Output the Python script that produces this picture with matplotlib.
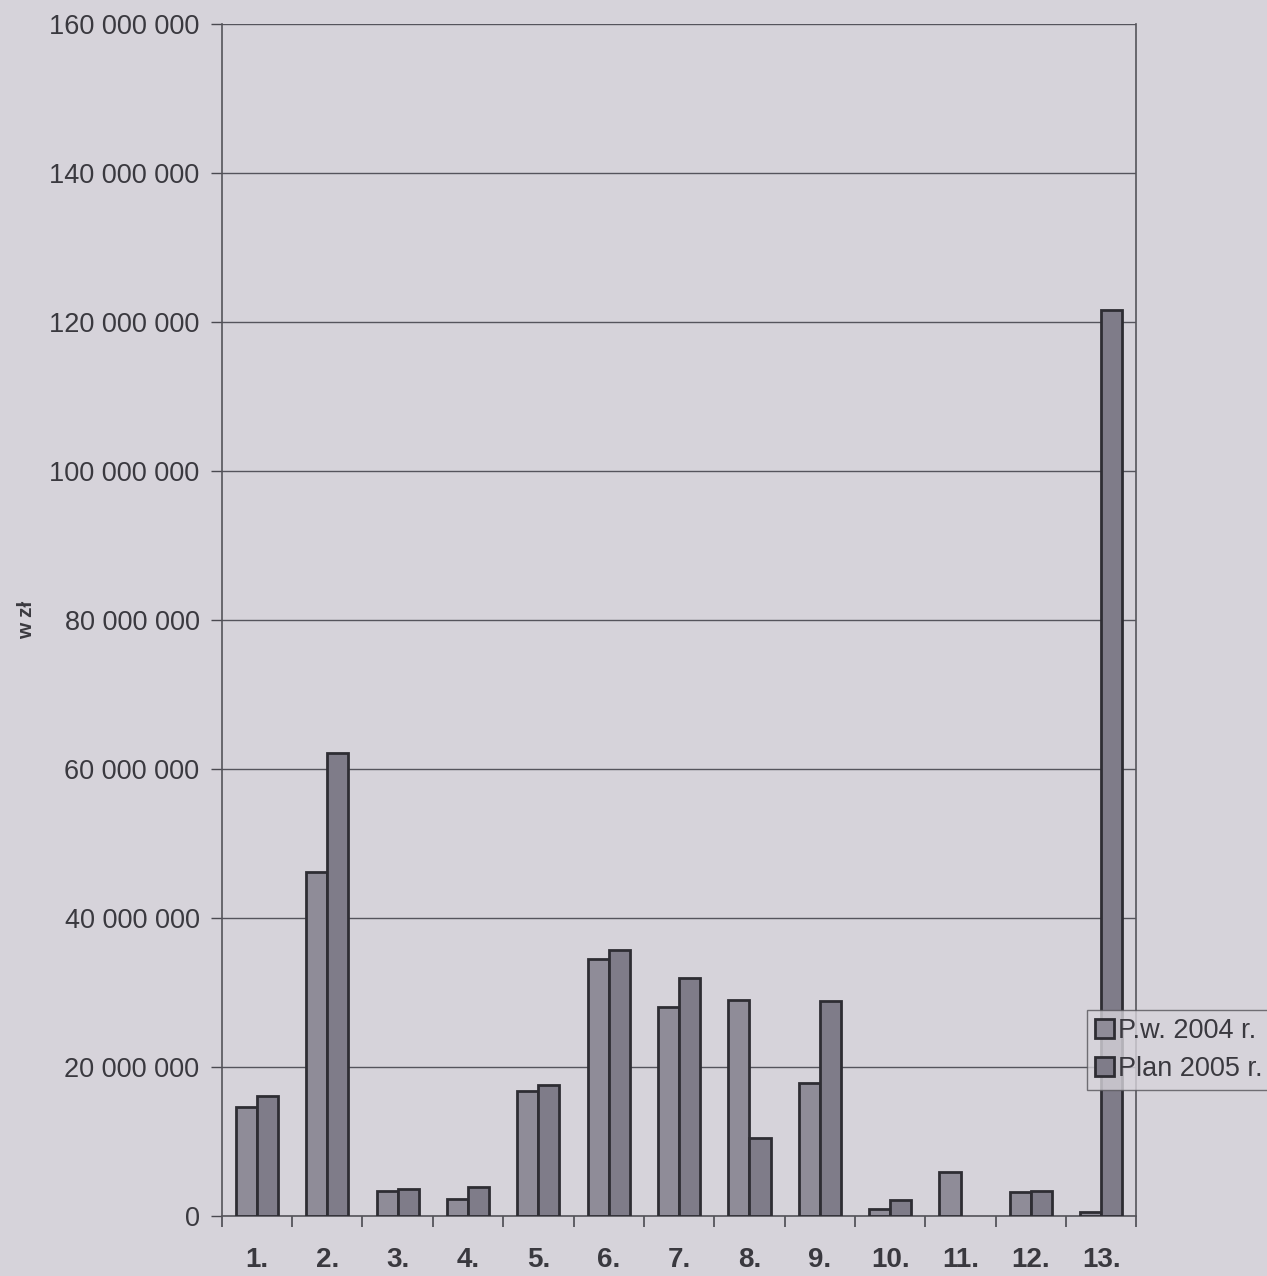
import matplotlib
matplotlib.use("Agg")
import matplotlib.pyplot as plt
import numpy as np
from matplotlib.ticker import FuncFormatter, FixedLocator

categories = ["1.", "2.", "3.", "4.", "5.", "6.", "7.", "8.", "9.", "10.", "11.", "12.", "13."]
pw_2004 = [14.6e6, 46.2e6, 3.4e6, 2.3e6, 16.8e6, 34.5e6, 28.1e6, 29.0e6, 17.9e6, 0.9e6, 5.9e6, 3.2e6, 0.6e6]
plan_2005 = [16.1e6, 62.1e6, 3.6e6, 3.9e6, 17.6e6, 35.7e6, 31.9e6, 10.5e6, 28.9e6, 2.1e6, 0.0, 3.4e6, 121.7e6]
series_labels = ["P.w. 2004 r.", "Plan 2005 r."]
y_ticks = [0, 20e6, 40e6, 60e6, 80e6, 100e6, 120e6, 140e6, 160e6]

plt.rcParams['font.family'] = ['Liberation Sans', 'DejaVu Sans']

bg = "#d6d3da"
fig = plt.figure(figsize=(12.67, 12.76), dpi=100, facecolor=bg)
ax = fig.add_axes([0.175, 0.047, 0.722, 0.934], facecolor=bg)

x = np.arange(len(categories))
w = 0.3
pw = np.array(pw_2004, dtype=float)
pl = np.array(plan_2005, dtype=float)
pw[pw == 0] = np.nan
pl[pl == 0] = np.nan
ax.bar(x - w / 2, pw, width=w, color="#8f8c98", edgecolor="#2e2d33", linewidth=2.0,
       label=series_labels[0], zorder=3)
ax.bar(x + w / 2, pl, width=w, color="#7f7c89", edgecolor="#2e2d33", linewidth=2.0,
       label=series_labels[1], zorder=3)

ax.set_xlim(-0.5, len(categories) - 0.5)
ax.set_ylim(0, 160e6)
ax.yaxis.set_major_locator(FixedLocator(y_ticks))
ax.yaxis.set_major_formatter(FuncFormatter(lambda v, p: f"{int(v):,}".replace(",", " ")))
ax.grid(axis="y", color="#55545c", linewidth=1.0, zorder=1)

ax.set_xticks(x)
ax.set_xticklabels(categories, fontsize=20, fontweight="bold", color="#3a393f")
ax.tick_params(axis="x", which="major", length=0, pad=22)
ax.set_xticks(np.arange(-0.5, len(categories), 1.0), minor=True)
ax.tick_params(axis="x", which="minor", length=8, width=1.2, color="#4a4950", direction="out")
ax.tick_params(axis="y", length=8, width=1.0, color="#4a4950", labelsize=19.5,
               labelcolor="#3a393f", pad=8)

for s in ["left", "right", "bottom"]:
    ax.spines[s].set_color("#55545a")
    ax.spines[s].set_linewidth(1.2)
ax.spines["top"].set_visible(False)

ax.set_ylabel("w zł", fontsize=15, fontweight="bold", color="#3a393f")
ax.yaxis.set_label_coords(-0.203, 0.5)

leg = fig.legend(loc="center left", bbox_to_anchor=(0.858, 0.177), fontsize=19.5,
                 frameon=True, fancybox=False, edgecolor="#55545a", facecolor=bg,
                 handlelength=0.7, handleheight=0.7, handletextpad=0.15,
                 borderpad=0.3, labelspacing=0.45, borderaxespad=0)
for t in leg.get_texts():
    t.set_color("#3a393f")

fig.savefig("out.png", dpi=100, facecolor=bg)
